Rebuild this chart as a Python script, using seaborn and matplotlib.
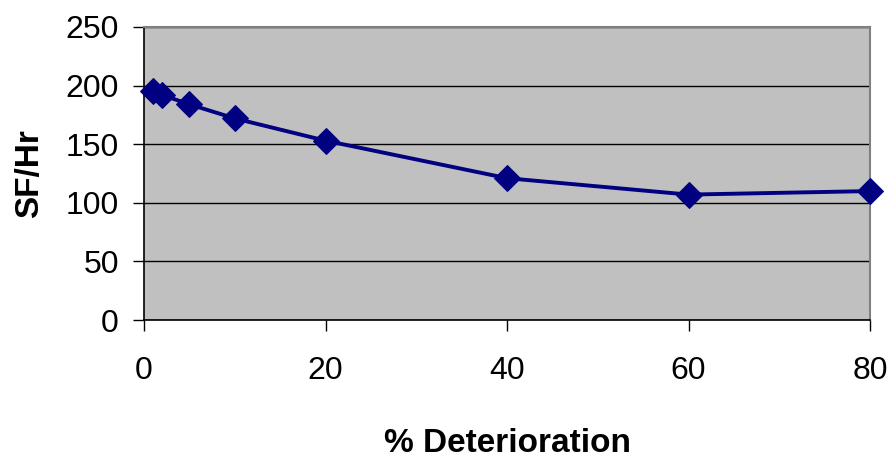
import matplotlib
matplotlib.use("Agg")
import matplotlib.pyplot as plt
from matplotlib import font_manager
import seaborn as sns
import pandas as pd

# Data
deterioration = [1, 2, 5, 10, 20, 40, 60, 80]
sf_per_hr = [195, 192, 184, 172, 153, 121, 107, 110]
x_ticks = [0, 20, 40, 60, 80]
y_ticks = [0, 50, 100, 150, 200, 250]
x_label = "% Deterioration"
y_label = "SF/Hr"

df = pd.DataFrame({"x": deterioration, "y": sf_per_hr})

sns.set_theme(style="white")
installed = {f.name for f in font_manager.fontManager.ttflist}
base_font = "Liberation Sans" if "Liberation Sans" in installed else "DejaVu Sans"
narrow_font = "Liberation Sans Narrow" if "Liberation Sans Narrow" in installed else base_font
plt.rcParams["font.family"] = [base_font, "DejaVu Sans"]
plt.rcParams["text.color"] = "black"
plt.rcParams["axes.labelcolor"] = "black"
plt.rcParams["xtick.color"] = "black"
plt.rcParams["ytick.color"] = "black"

fig = plt.figure(figsize=(8.92, 4.58), dpi=100)
ax = fig.add_axes([144 / 892, 1 - 320 / 458, (870 - 144) / 892, (320 - 27) / 458])
ax.set_facecolor("#C0C0C0")

sns.lineplot(data=df, x="x", y="y", ax=ax, color="#000080", linewidth=2.8,
             marker="D", markersize=13, markeredgecolor="#000080",
             markerfacecolor="#000080", zorder=3, clip_on=False)

ax.set_xlim(0, 80)
ax.set_ylim(0, 250)
ax.set_xticks(x_ticks)
ax.set_yticks(y_ticks)
ax.set_xticklabels([str(v) for v in x_ticks], fontsize=23, family=[narrow_font, "DejaVu Sans"])
ax.set_yticklabels([str(v) for v in y_ticks], fontsize=23)

ax.yaxis.grid(True, color="black", linewidth=1.0)
ax.xaxis.grid(False)
ax.set_axisbelow(True)

for s in ["left", "bottom"]:
    ax.spines[s].set_color("black")
    ax.spines[s].set_linewidth(1.2)
for s in ["top", "right"]:
    ax.spines[s].set_color("#808080")
    ax.spines[s].set_linewidth(1.5)

ax.tick_params(axis="x", direction="out", length=8, width=1, colors="black", pad=18, bottom=True)
ax.tick_params(axis="y", direction="out", length=8, width=1, colors="black", pad=10, left=True)

ax.set_xlabel(x_label, fontsize=24, fontweight="bold", labelpad=30, color="black")
ax.set_ylabel(y_label, fontsize=24, fontweight="bold", labelpad=15, color="black")

fig.savefig("out.png", dpi=100, facecolor="white")
